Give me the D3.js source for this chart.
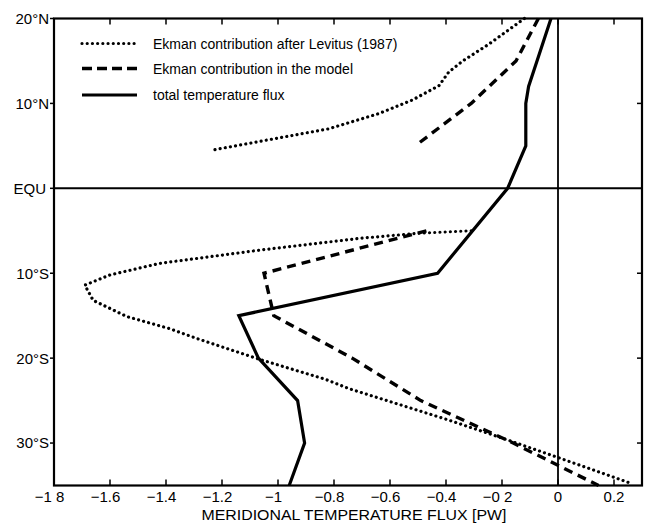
<!DOCTYPE html>
<html>
<head>
<meta charset="utf-8">
<script src="https://cdn.jsdelivr.net/npm/d3@7"></script>
<style>
  html, body { margin: 0; padding: 0; background: #fff; }
  svg { display: block; font-family: "Liberation Sans", Arial, Helvetica, sans-serif; }
</style>
</head>
<body>
<svg id="chart" width="646" height="525"></svg>
<script>
// ---- data ----
const xTickValues = [-1.8, -1.6, -1.4, -1.2, -1.0, -0.8, -0.6, -0.4, -0.2, 0, 0.2];
const xTickLabels = ["\u22121 8", "\u22121.6", "\u22121.4", "\u22121.2", "\u22121", "\u22120.8", "\u22120.6", "\u22120.4", "\u22120 2", "0", "0.2"];
const yTickValues = [20, 10, 0, -10, -20, -30];
const yTickLabels = ["20\u00b0N", "10\u00b0N", "EQU", "10\u00b0S", "20\u00b0S", "30\u00b0S"];

// total temperature flux
const latTotal  = [20, 15, 12, 10, 5, 0, -10, -15, -20, -25, -30, -35];
const fluxTotal = [-0.025, -0.075, -0.105, -0.115, -0.115, -0.18, -0.43, -1.14, -1.07, -0.93, -0.905, -0.96];

// Ekman contribution in the model (north and south segments)
const latModelN  = [20, 15, 10, 5];
const fluxModelN = [-0.07, -0.15, -0.31, -0.51];
const latModelS  = [-5, -10, -15, -20, -25, -30, -35];
const fluxModelS = [-0.47, -1.05, -1.015, -0.735, -0.49, -0.16, 0.145];

// Ekman contribution after Levitus (1987) (north and south segments)
const latLevN  = [20, 17, 15, 13.7, 12.1, 10.4, 8.8, 7, 5.8, 4.5];
const fluxLevN = [-0.12, -0.246, -0.34, -0.39, -0.425, -0.52, -0.64, -0.82, -1.02, -1.235];
const latLevS  = [-5, -5.3, -5.9, -7.3, -8.85, -10.2, -11.4, -13.2, -15.1, -16.5, -17.8, -20.1, -22.5, -23.6, -27.3, -29.3, -31.7, -34.8];
const fluxLevS = [-0.31, -0.5, -0.71, -1.07, -1.425, -1.6, -1.69, -1.66, -1.54, -1.39, -1.28, -1.07, -0.83, -0.746, -0.39, -0.21, 0, 0.265];

const legendLabels = ["Ekman contribution after Levitus (1987)", "Ekman contribution in the model", "total temperature flux"];

// ---- drawing ----
const svg = d3.select("#chart");
const L = 54, R = 642, T = 18.5, B = 485.5;
const x = d3.scaleLinear().domain([-1.8, 0.3]).range([L, R]);
const y = d3.scaleLinear().domain([-35, 20]).range([B, T]);

const toPts = (lats, vals) => lats.map((la, i) => [vals[i], la]);
const line = d3.line().x(d => x(d[0])).y(d => y(d[1]));

// reference lines: equator and zero flux
svg.append("line").attr("x1", L).attr("x2", R).attr("y1", y(0)).attr("y2", y(0))
  .attr("stroke", "#000").attr("stroke-width", 2);
svg.append("line").attr("x1", x(0)).attr("x2", x(0)).attr("y1", T).attr("y2", B)
  .attr("stroke", "#000").attr("stroke-width", 1.8);

// frame
svg.append("rect").attr("x", L).attr("y", T).attr("width", R - L).attr("height", B - T)
  .attr("fill", "none").attr("stroke", "#000").attr("stroke-width", 2.2);

// x ticks (inside, bottom and top)
const xt = svg.append("g");
xTickValues.forEach((v, i) => {
  if (i > 0) {
    xt.append("line").attr("x1", x(v)).attr("x2", x(v)).attr("y1", B).attr("y2", B - 6)
      .attr("stroke", "#000").attr("stroke-width", 1.5);
    xt.append("line").attr("x1", x(v)).attr("x2", x(v)).attr("y1", T).attr("y2", T + 6)
      .attr("stroke", "#000").attr("stroke-width", 1.5);
  }
  const neg = xTickLabels[i].startsWith("\u2212");
  xt.append("text").attr("x", x(v) + (neg ? -4.5 : 0)).attr("y", 502)
    .attr("text-anchor", "middle").attr("font-size", 15).attr("fill", "#000")
    .text(xTickLabels[i]);
});

// y ticks: outward on left, inward on right
const yt = svg.append("g");
yTickValues.forEach((v, i) => {
  yt.append("line").attr("x1", L - 4).attr("x2", L).attr("y1", y(v)).attr("y2", y(v))
    .attr("stroke", "#000").attr("stroke-width", 1.5);
  if (v !== 20 && v !== 0) {
    yt.append("line").attr("x1", R - 5).attr("x2", R).attr("y1", y(v)).attr("y2", y(v))
      .attr("stroke", "#000").attr("stroke-width", 1.5);
  }
  yt.append("text").attr("x", v === 0 ? 46 : 49).attr("y", y(v)).attr("dy", "0.36em")
    .attr("text-anchor", "end").attr("font-size", 15).attr("fill", "#000")
    .text(yTickLabels[i]);
});

// axis title
svg.append("text").attr("x", 354).attr("y", 520).attr("text-anchor", "middle")
  .attr("font-size", 15).attr("fill", "#000")
  .attr("textLength", 305).attr("lengthAdjust", "spacingAndGlyphs")
  .text("MERIDIONAL TEMPERATURE FLUX [PW]");

// series styles
const styles = {
  dotted: { width: 3.2, dash: "0.01,5.2", cap: "round" },
  dashed: { width: 3.4, dash: "9,6", cap: "butt" },
  solid:  { width: 3.2, dash: null, cap: "butt" }
};
function drawSeries(pts, st) {
  svg.append("path").datum(pts).attr("d", line).attr("fill", "none")
    .attr("stroke", "#000").attr("stroke-width", st.width)
    .attr("stroke-dasharray", st.dash).attr("stroke-linecap", st.cap)
    .attr("stroke-linejoin", "miter");
}
drawSeries(toPts(latLevN, fluxLevN), styles.dotted);
drawSeries(toPts(latLevS, fluxLevS), styles.dotted);
drawSeries(toPts(latModelN, fluxModelN), styles.dashed);
drawSeries(toPts(latModelS, fluxModelS), styles.dashed);
drawSeries(toPts(latTotal, fluxTotal), styles.solid);

// legend
const legendY = [43.5, 68.5, 95];
const legStyles = [styles.dotted, styles.dashed, styles.solid];
legendLabels.forEach((lab, i) => {
  const st = legStyles[i];
  svg.append("line").attr("x1", 82).attr("x2", 137).attr("y1", legendY[i]).attr("y2", legendY[i])
    .attr("stroke", "#000").attr("stroke-width", st.width)
    .attr("stroke-dasharray", i === 1 ? "10,5" : st.dash).attr("stroke-linecap", st.cap);
  svg.append("text").attr("x", 153).attr("y", legendY[i]).attr("dy", "0.36em")
    .attr("font-size", 14).attr("fill", "#000").text(lab);
});
</script>
</body>
</html>
